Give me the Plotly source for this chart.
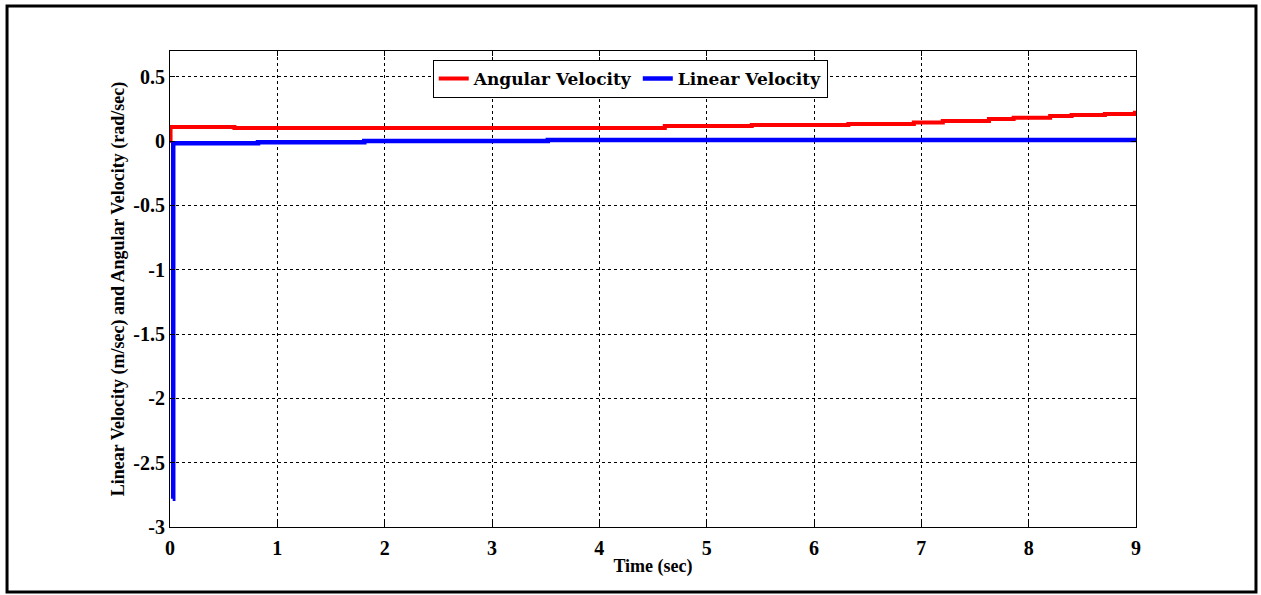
import plotly.graph_objects as go

# Data (step-like signals)
t_ang = [0.0, 0.005, 0.6, 4.61, 5.42, 6.32, 6.93, 7.2, 7.63, 7.86, 8.2, 8.4, 8.71, 8.99, 9.0]
w_ang = [0.0, 0.109, 0.101, 0.117, 0.124, 0.132, 0.145, 0.156, 0.171, 0.181, 0.194, 0.202, 0.21, 0.22, 0.22]

t_lin = [0.025, 0.03, 0.82, 1.81, 3.52, 9.0]
v_lin = [-2.78, -0.018, -0.01, 0.0, 0.008, 0.008]

x_ticks = [0, 1, 2, 3, 4, 5, 6, 7, 8, 9]
x_labels = ["0", "1", "2", "3", "4", "5", "6", "7", "8", "9"]
y_ticks = [0.5, 0, -0.5, -1, -1.5, -2, -2.5, -3]
y_labels = ["0.5", "0", "-0.5", "-1", "-1.5", "-2", "-2.5", "-3"]

FONT = "Liberation Serif"

fig = go.Figure()
fig.add_trace(go.Scatter(x=t_ang, y=w_ang, mode="lines", name="<b>Angular Velocity</b>",
                         line=dict(color="#ff0000", width=4, shape="hv")))
fig.add_trace(go.Scatter(x=t_lin, y=v_lin, mode="lines", name="<b>Linear Velocity</b>",
                         line=dict(color="#0000ff", width=4.5, shape="hv")))

axis_common = dict(showline=True, linecolor="black", linewidth=1, mirror="allticks",
                   ticks="inside", ticklen=5, tickcolor="black",
                   showgrid=True, gridcolor="black", gridwidth=1, griddash="3px,3px",
                   zeroline=False,
                   tickfont=dict(family=FONT, size=20, color="black", weight="bold"))

fig.update_xaxes(range=[0, 9], tickvals=x_ticks, ticktext=x_labels, ticklabelstandoff=3,
                 title=dict(text="<b>Time (sec)</b>", font=dict(family=FONT, size=18, color="black"), standoff=1),
                 **axis_common)
fig.update_yaxes(range=[-3, 0.7], tickvals=y_ticks, ticktext=y_labels,
                 title=dict(text="<b>Linear Velocity (m/sec) and Angular Velocity (rad/sec)</b>",
                            font=dict(family=FONT, size=18, color="black"), standoff=4),
                 **axis_common)

fig.update_layout(
    width=1261, height=595,
    margin=dict(l=170, r=125, t=51, b=68),
    paper_bgcolor="white", plot_bgcolor="white",
    showlegend=True,
    legend=dict(orientation="h", x=0.272, y=0.981, xanchor="left", yanchor="top",
                bgcolor="white", bordercolor="black", borderwidth=1,
                font=dict(family="DejaVu Serif", size=17, color="black"),
                itemwidth=30, tracegroupgap=0),
    shapes=[dict(type="rect", xref="paper", yref="paper",
                 x0=-0.1687, x1=1.1242, y0=-0.1366, y1=1.0945,
                 line=dict(color="black", width=3), layer="below")],
)

fig.write_html("out.html")
